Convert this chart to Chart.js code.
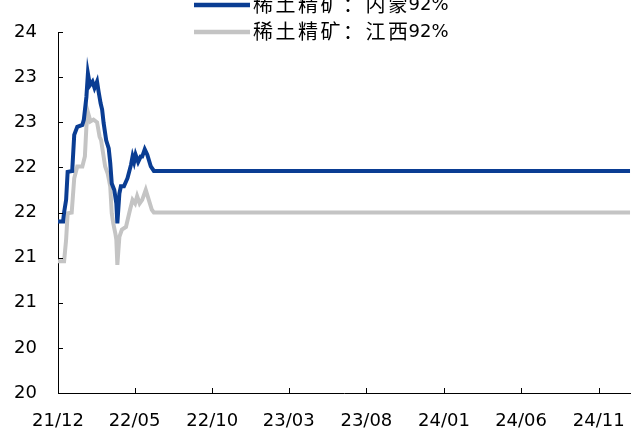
<!DOCTYPE html>
<html>
<head>
<meta charset="utf-8">
<script src="https://cdn.jsdelivr.net/npm/chart.js@4/dist/chart.umd.min.js"></script>
<style>
  html, body { margin: 0; padding: 0; background: #fff; }
  #wrap { width: 643px; height: 435px; }
</style>
</head>
<body>
<div id="wrap"><canvas id="grafico" width="643" height="435"></canvas></div>
<script>
// =========================
// DATOS
// =========================
const seriesNames = ['稀土精矿：内蒙92%', '稀土精矿：江西92%'];

// 内蒙92%
const neimengDates = [
    '2021-12-01', '2021-12-11', '2021-12-13', '2021-12-17', '2021-12-20', '2021-12-29',
    '2022-01-02', '2022-01-08', '2022-01-18', '2022-01-21', '2022-01-26', '2022-01-29',
    '2022-02-02', '2022-02-07', '2022-02-11', '2022-02-16', '2022-02-19', '2022-02-23',
    '2022-02-26', '2022-03-01', '2022-03-06', '2022-03-11', '2022-03-14', '2022-03-17',
    '2022-03-22', '2022-03-26', '2022-03-28', '2022-04-01', '2022-04-04', '2022-04-10',
    '2022-04-17', '2022-04-24', '2022-04-27', '2022-04-30', '2022-05-03', '2022-05-08',
    '2022-05-13', '2022-05-16', '2022-05-21', '2022-05-26', '2022-06-02', '2022-06-08',
    '2025-01-02'
];
const neimengValues = [
    21.90, 21.90, 22.00, 22.14, 22.45, 22.46,
    22.86, 22.95, 22.97, 23.03, 23.28, 23.54,
    23.41, 23.45, 23.38, 23.45, 23.34, 23.21,
    23.14, 22.99, 22.80, 22.71, 22.55, 22.32,
    22.25, 22.10, 21.88, 22.21, 22.29, 22.29,
    22.38, 22.53, 22.62, 22.56, 22.64, 22.56,
    22.62, 22.62, 22.70, 22.64, 22.51, 22.46,
    22.46
];

// 江西92%
const jiangxiDates = [
    '2021-12-01', '2021-12-13', '2021-12-17', '2021-12-20', '2021-12-28', '2022-01-02',
    '2022-01-08', '2022-01-18', '2022-01-23', '2022-01-26', '2022-01-29', '2022-02-03',
    '2022-02-09', '2022-02-16', '2022-02-21', '2022-02-24', '2022-02-27', '2022-03-04',
    '2022-03-09', '2022-03-14', '2022-03-17', '2022-03-20', '2022-03-24', '2022-03-26',
    '2022-03-28', '2022-04-01', '2022-04-06', '2022-04-14', '2022-04-22', '2022-04-27',
    '2022-05-02', '2022-05-06', '2022-05-11', '2022-05-16', '2022-05-23', '2022-05-29',
    '2022-06-04', '2022-06-08', '2025-01-02'
];
const jiangxiValues = [
    21.46, 21.46, 21.70, 21.99, 22.00, 22.38,
    22.51, 22.51, 22.62, 22.95, 23.11, 23.01,
    23.03, 23.00, 22.84, 22.80, 22.69, 22.51,
    22.43, 22.29, 21.99, 21.88, 21.77, 21.70,
    21.42, 21.73, 21.81, 21.84, 22.03, 22.14,
    22.10, 22.18, 22.10, 22.14, 22.25, 22.14,
    22.03, 22.00, 22.00
];

const xTickDates  = ['2021-12-01', '2022-05-01', '2022-10-01', '2023-03-01', '2023-08-01', '2024-01-01', '2024-06-01', '2024-11-01'];
const xTickLabels = ['21/12', '22/05', '22/10', '23/03', '23/08', '24/01', '24/06', '24/11'];
const yTickLabels = ['20', '20', '21', '21', '22', '22', '23', '23', '24'];

const AZUL = '#0a3d93';
const GRIS = '#c4c4c4';
const FUENTE = "'DejaVu Sans', Verdana, sans-serif";

// días desde el inicio del eje
function dia(s) {
    const t = Date.UTC(+s.slice(0, 4), +s.slice(5, 7) - 1, +s.slice(8, 10));
    return (t - Date.UTC(2021, 11, 1)) / 86400000;
}

function puntos(fechas, valores) {
    return fechas.map((d, i) => ({ x: dia(d), y: valores[i] }));
}

// ============ TICKS HACIA DENTRO ============
const ticksInternos = {
    id: 'ticksInternos',
    afterDraw(chart) {
        const ctx = chart.ctx;
        const xs = chart.scales.x, ys = chart.scales.y;
        ctx.save();
        ctx.strokeStyle = '#000';
        ctx.lineWidth = 1;
        ctx.beginPath();
        ys.ticks.forEach((t, i) => {
            const y = Math.round(ys.getPixelForTick(i)) + 0.5;
            ctx.moveTo(ys.right, y);
            ctx.lineTo(ys.right + 5, y);
        });
        xs.ticks.forEach((t, i) => {
            const x = Math.round(xs.getPixelForTick(i)) + 0.5;
            ctx.moveTo(x, xs.top);
            ctx.lineTo(x, xs.top - 5);
        });
        ctx.stroke();
        ctx.restore();
    }
};

// ============ LEYENDA ============
const leyenda = {
    id: 'leyenda',
    afterDraw(chart) {
        const ctx = chart.ctx;
        const filas = [
            { color: AZUL, y: 5, texto: seriesNames[0] },
            { color: GRIS, y: 32, texto: seriesNames[1] }
        ];
        ctx.save();
        filas.forEach(f => {
            ctx.strokeStyle = f.color;
            ctx.lineWidth = 4.5;
            ctx.beginPath();
            ctx.moveTo(194, f.y);
            ctx.lineTo(250, f.y);
            ctx.stroke();

            const cjk = f.texto.replace('92%', '');
            ctx.fillStyle = '#000';
            ctx.textBaseline = 'middle';
            ctx.textAlign = 'left';
            ctx.font = "20px 'Noto Sans CJK SC'";
            let x = 253;
            for (const ch of cjk) {
                ctx.fillText(ch, x, f.y - 1);
                x += 22.5;
            }
            ctx.font = '18px ' + FUENTE;
            ctx.fillText('92%', x - 2, f.y);
        });
        ctx.restore();
    }
};

new Chart(document.getElementById('grafico'), {
    type: 'line',
    data: {
        datasets: [
            {
                label: seriesNames[0],
                data: puntos(neimengDates, neimengValues),
                borderColor: AZUL,
                borderWidth: 4,
                pointRadius: 0,
                tension: 0
            },
            {
                label: seriesNames[1],
                data: puntos(jiangxiDates, jiangxiValues),
                borderColor: GRIS,
                borderWidth: 4,
                pointRadius: 0,
                tension: 0
            }
        ]
    },
    options: {
        responsive: false,
        animation: false,
        layout: { padding: { top: 32, right: 7, left: 0, bottom: 0 } },
        plugins: {
            legend: { display: false },
            tooltip: { enabled: false }
        },
        scales: {
            x: {
                type: 'linear',
                min: 0,
                max: dia('2025-01-02'),
                afterBuildTicks(scale) {
                    scale.ticks = xTickDates.map(d => ({ value: dia(d) }));
                },
                afterFit(scale) { scale.height = 42; },
                grid: { display: false, drawTicks: false },
                border: { color: '#000', width: 1 },
                ticks: {
                    autoSkip: false,
                    maxRotation: 0,
                    padding: 18,
                    color: '#000',
                    font: { family: FUENTE, size: 18 },
                    callback: (v, i) => xTickLabels[i]
                }
            },
            y: {
                min: 20,
                max: 24,
                afterFit(scale) { scale.width = 58; },
                grid: { display: false, drawTicks: false },
                border: { color: '#000', width: 1 },
                ticks: {
                    stepSize: 0.5,
                    padding: 21,
                    color: '#000',
                    font: { family: FUENTE, size: 18 },
                    callback: (v, i) => yTickLabels[i]
                }
            }
        }
    },
    plugins: [ticksInternos, leyenda]
});
</script>
</body>
</html>
